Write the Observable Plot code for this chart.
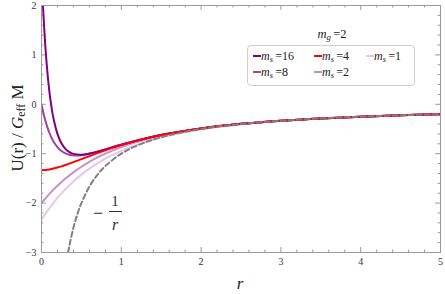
<!DOCTYPE html>
<html>
<head>
<meta charset="utf-8">
<script src="https://cdn.jsdelivr.net/npm/d3@7"></script>
<script src="https://cdn.jsdelivr.net/npm/@observablehq/plot@0.6"></script>
<style>
  body { margin: 0; background: #fff; }
  #wrap { position: relative; width: 445px; height: 294px; font-family: "Liberation Serif", "DejaVu Serif", serif; color: #222; }
  .ov { position: absolute; white-space: nowrap; line-height: 1; }
  sub { font-size: 70%; vertical-align: -0.25em; line-height: 0; }
</style>
</head>
<body>
<div id="wrap"></div>
<script>
// ---- data ----
const rSmooth = [0, 0.05, 0.1, 0.15, 0.2, 0.25, 0.3, 0.4, 0.5, 0.6, 0.7, 0.8, 1.0, 1.2, 1.5, 2, 2.5, 3, 3.5, 4, 4.5, 5];
const ms4 = [-1.333, -1.329, -1.318, -1.301, -1.280, -1.256, -1.229, -1.171, -1.109, -1.048, -0.988, -0.931, -0.826, -0.735, -0.623, -0.488, -0.396, -0.332, -0.285, -0.250, -0.222, -0.200];
const ms2 = [-2.000, -1.903, -1.813, -1.728, -1.648, -1.574, -1.504, -1.377, -1.264, -1.165, -1.076, -0.998, -0.865, -0.758, -0.634, -0.491, -0.397, -0.333, -0.286, -0.250, -0.222, -0.200];
const ms1 = [-2.333, -2.213, -2.100, -1.994, -1.896, -1.804, -1.717, -1.561, -1.423, -1.302, -1.195, -1.101, -0.942, -0.816, -0.672, -0.510, -0.407, -0.338, -0.288, -0.251, -0.223, -0.200];
const rSteep = [0, 0.0125, 0.025, 0.05, 0.075, 0.1, 0.125, 0.15, 0.2, 0.25, 0.3, 0.35, 0.4, 0.5, 0.6, 0.7, 0.8, 1.0, 1.2, 1.5, 2, 2.5, 3, 3.5, 4, 4.5, 5];
const ms16 = [2.667, 2.200, 1.795, 1.134, 0.630, 0.243, -0.054, -0.283, -0.599, -0.790, -0.903, -0.969, -1.004, -1.019, -0.997, -0.959, -0.914, -0.820, -0.733, -0.622, -0.488, -0.396, -0.332, -0.285, -0.250, -0.222, -0.200];
const ms8 = [0.000, -0.096, -0.184, -0.340, -0.471, -0.581, -0.674, -0.751, -0.868, -0.946, -0.995, -1.023, -1.036, -1.031, -1.002, -0.961, -0.914, -0.820, -0.733, -0.622, -0.488, -0.396, -0.332, -0.285, -0.250, -0.222, -0.200];
const rNewton = [0.3333, 0.35, 0.4, 0.45, 0.5, 0.6, 0.7, 0.8, 1.0, 1.2, 1.5, 2, 2.5, 3, 3.5, 4, 4.5, 5];
const newton = [-3.000, -2.857, -2.500, -2.222, -2.000, -1.667, -1.429, -1.250, -1.000, -0.833, -0.667, -0.500, -0.400, -0.333, -0.286, -0.250, -0.222, -0.200];
const xTicks = [0, 1, 2, 3, 4, 5];
const yTicks = [-3, -2, -1, 0, 1, 2];
const seriesNames = ["m_s=1", "m_s=2", "m_s=8", "m_s=16", "m_s=4"];
const seriesColors = ["#e6c8e6", "#c890c8", "#a440a4", "#800080", "#ff0000"];
const legendOrder = ["16", "8", "4", "2", "1"];
const legendColors = ["#800080", "#a440a4", "#ff0000", "#c890c8", "#e6c8e6"];

// ---- build rows ----
const rows = [];
const add = (name, xs, ys) => xs.forEach((x, i) => rows.push({name, r: x, u: ys[i]}));
add("m_s=1", rSmooth, ms1);
add("m_s=2", rSmooth, ms2);
add("m_s=8", rSteep, ms8);
add("m_s=16", rSteep, ms16);
add("m_s=4", rSmooth, ms4);
const newtonRows = rNewton.map((x, i) => ({r: x, u: newton[i]}));

const xMinor = d3.range(0, 5.0001, 0.2).filter(v => Math.abs(v - Math.round(v)) > 1e-6);
const yMinor = d3.range(-3, 2.0001, 0.2).filter(v => Math.abs(v - Math.round(v)) > 1e-6);
const grey = "#9a9a9a";

const plot = Plot.plot({
  width: 445, height: 294,
  marginLeft: 41, marginRight: 5, marginTop: 5, marginBottom: 42,
  x: {domain: [0, 5]},
  y: {domain: [-3, 2]},
  color: {domain: seriesNames, range: seriesColors},
  style: {fontFamily: "'Liberation Serif', serif", fontSize: "10px", color: "#333", background: "white"},
  marks: [
    Plot.axisX(xTicks, {anchor: "bottom", tickSize: 0, tickPadding: 5, label: null, fontSize: 10}),
    Plot.axisY(yTicks, {anchor: "left", tickSize: 0, tickPadding: 5, label: null, fontSize: 10}),
    Plot.ruleX(xTicks, {x: d => d, y1: -3, y2: -2.9, stroke: grey}),
    Plot.ruleX(xMinor, {x: d => d, y1: -3, y2: -2.95, stroke: grey}),
    Plot.ruleX(xTicks, {x: d => d, y1: 2, y2: 1.9, stroke: grey}),
    Plot.ruleX(xMinor, {x: d => d, y1: 2, y2: 1.95, stroke: grey}),
    Plot.ruleY(yTicks, {y: d => d, x1: 0, x2: 0.06, stroke: grey}),
    Plot.ruleY(yMinor, {y: d => d, x1: 0, x2: 0.03, stroke: grey}),
    Plot.ruleY(yTicks, {y: d => d, x1: 5, x2: 4.94, stroke: grey}),
    Plot.ruleY(yMinor, {y: d => d, x1: 5, x2: 4.97, stroke: grey}),
    Plot.line(rows, {x: "r", y: "u", z: "name", stroke: "name", strokeWidth: 2, curve: "catmull-rom", clip: true}),
    Plot.line(newtonRows, {x: "r", y: "u", stroke: "#808080", strokeWidth: 2, strokeDasharray: "5,3", curve: "catmull-rom", clip: true}),
    Plot.frame({stroke: grey, strokeWidth: 1})
  ]
});

const wrap = document.getElementById("wrap");
wrap.appendChild(plot);
plot.style.position = "absolute";
plot.style.left = "0";
plot.style.top = "0";

function ov(html, css) {
  const d = document.createElement("div");
  d.className = "ov";
  d.innerHTML = html;
  d.style.cssText += css;
  wrap.appendChild(d);
  return d;
}
// axis titles
ov("U(r) / <i>G</i><sub>eff</sub> M", "left:17px;top:128px;font-size:17px;transform:translate(-50%,-50%) rotate(-90deg);");
ov("<i>r</i>", "left:240px;top:283px;font-size:17px;transform:translate(-50%,-50%);");
// -1/r annotation
ov("−", "left:98px;top:213px;font-size:18px;transform:translate(-50%,-50%);color:#333;");
ov("1", "left:115px;top:201px;font-size:15px;transform:translate(-50%,-50%);color:#333;");
ov("", "left:109px;top:211px;width:13px;height:1px;background:#333;");
ov("<i>r</i>", "left:115px;top:225px;font-size:16px;transform:translate(-50%,-50%);color:#333;");
// legend
ov("<i>m<sub>g</sub></i>&#8201;=2", "left:332px;top:34px;font-size:12.5px;transform:translate(-50%,-50%);");
ov("", "left:247px;top:45px;width:168px;height:41px;border:1px solid #cfcfcf;border-radius:4px;box-sizing:border-box;");
const legendPos = [[253, 56], [253, 72], [314, 56], [314, 72], [366, 56]];
legendOrder.forEach((v, i) => {
  const [x, y] = legendPos[i];
  ov("", `left:${x}px;top:${y - 1}px;width:8px;height:2px;background:${legendColors[i]};`);
  ov(`<i>m<sub>s</sub></i>&#8201;=${v}`, `left:${x + 8}px;top:${y}px;font-size:12px;transform:translateY(-50%);`);
});
</script>
</body>
</html>
